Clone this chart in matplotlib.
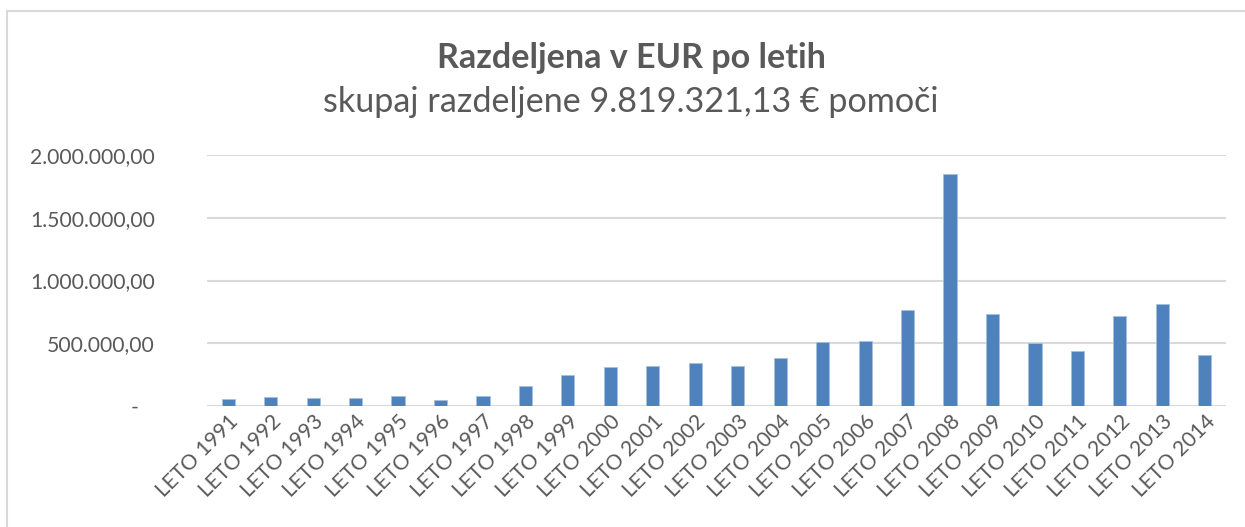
import matplotlib
matplotlib.use("Agg")
import matplotlib.pyplot as plt
import matplotlib.transforms as mtransforms
from matplotlib.lines import Line2D
from matplotlib.ticker import FuncFormatter

years = [str(y) for y in range(1991, 2015)]
categories = ["LETO " + y for y in years]
values = [56000, 72000, 64000, 66000, 80000, 45000, 80000, 162000, 245000, 311000,
          319000, 346000, 319000, 383000, 513000, 521000, 763000, 1851000, 734000,
          500000, 436000, 721000, 811000, 404000]
yticks = [0, 500000, 1000000, 1500000, 2000000]
title = "Razdeljena v EUR po letih"
subtitle = "skupaj razdeljene 9.819.321,13 € pomoči"

FONT = "Lato"
TXT = "#595959"
W, H = 1245, 527
fig = plt.figure(figsize=(W / 100, H / 100), dpi=100)
fig.patch.set_facecolor("white")

# chart border (top and left visible)
fig.add_artist(Line2D([6.5 / W, 6.5 / W], [0, 1 - 10.5 / H], transform=fig.transFigure,
                      color="#D9D9D9", lw=1.5))
fig.add_artist(Line2D([6.5 / W, 1], [1 - 10.5 / H, 1 - 10.5 / H], transform=fig.transFigure,
                      color="#D9D9D9", lw=1.5))

left, right = 207 / W, 1226 / W
bottom, top = 1 - 406 / H, 1 - 155 / H
ax = fig.add_axes([left, bottom, right - left, top - bottom])
x = list(range(len(categories)))
ax.bar(x, values, width=0.31, color="#4F81BD", edgecolor="#A7C0DE", linewidth=0.6, zorder=3)
ax.set_xlim(-0.5, len(categories) - 0.5)
ax.set_ylim(0, 2000000)
ax.set_yticks(yticks)

def fmt(v, pos):
    if v == 0:
        return "-   "
    s = f"{v:,.2f}"
    return s.replace(",", "X").replace(".", ",").replace("X", ".")

ax.yaxis.set_major_formatter(FuncFormatter(fmt))
ax.grid(axis="y", color="#D9D9D9", lw=1.5, zorder=0)
ax.set_axisbelow(True)
for s in ax.spines.values():
    s.set_visible(False)
ax.tick_params(axis="y", length=0, pad=37.5, labelsize=15.2, labelcolor=TXT)
ax.tick_params(axis="x", length=0, pad=9, labelsize=15.2, labelcolor=TXT)
ax.set_xticks(x)
ax.set_xticklabels(categories, rotation=45, ha="right", rotation_mode="anchor", va="center")
off = mtransforms.ScaledTranslation(7 / 100, 0, fig.dpi_scale_trans)
for lab in ax.get_xticklabels():
    lab.set_transform(lab.get_transform() + off)
for lab in ax.get_yticklabels() + ax.get_xticklabels():
    lab.set_fontfamily(FONT)

fig.text(631 / W, 1 - 58 / H, title, ha="center", va="center", fontsize=24.6,
         fontweight="bold", color=TXT, family=FONT)
fig.text(631 / W, 1 - 102 / H, subtitle, ha="center", va="center", fontsize=24.6,
         color=TXT, family=FONT)

fig.savefig("out.png", dpi=100, facecolor="white")
